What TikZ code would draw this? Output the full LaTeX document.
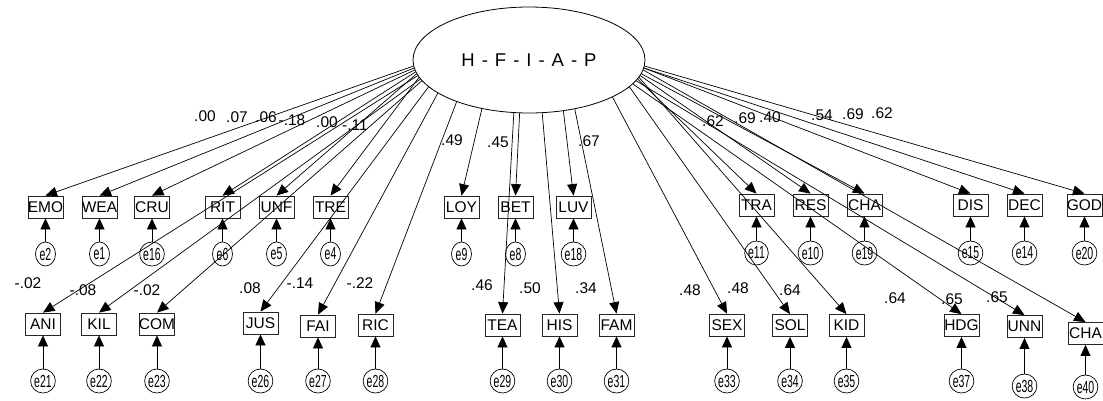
\documentclass[tikz,border=0pt]{standalone}
\usepackage{fontspec}
\usepackage{graphicx}
\setmainfont{Liberation Sans}
\usetikzlibrary{arrows.meta,shapes.geometric}
% error-term labels are set narrow, as in the circles of the path diagram
\newcommand{\errlabel}[1]{\scalebox{0.6}[1]{#1}}
\begin{document}
\begin{tikzpicture}[x=1pt,y=-1pt,
  every node/.style={inner sep=0pt},
  obs/.style={draw=black!85, line width=0.8pt, minimum width=35pt, minimum height=22pt},
  obstext/.style={font=\fontsize{15.5}{15.5}\selectfont},
  err/.style={draw, ellipse, line width=0.7pt, minimum width=20pt, minimum height=24pt,
              font=\fontsize{17.5}{17.5}\selectfont},
  coef/.style={font=\fontsize{15.5}{15.5}\selectfont},
  loadarrow/.style={line width=0.7pt, -{Triangle[length=11.5pt,width=10pt]}},
  errarrow/.style={line width=0.7pt, -{Triangle[length=11pt,width=10pt]}},
]
\useasboundingbox (0,0) rectangle (1103,400);

% latent factor
\node[draw, ellipse, line width=0.8pt, minimum width=232pt, minimum height=106pt,
      font=\fontsize{18.5}{18.5}\selectfont] (F) at (529,60)
  {H\hspace{7pt}-\hspace{7pt}F\hspace{7pt}-\hspace{7pt}I\hspace{7pt}-\hspace{7pt}A\hspace{7pt}-\hspace{7pt}P};

% upper row of indicators
\foreach \n/\x/\y in {EMO/45.5/207, WEA/99.5/207, CRU/152/207, RIT/222.5/207, UNF/276.5/207,
  TRE/330.5/207, LOY/461.5/207, BET/515.5/207, LUV/573.5/207, TRA/756.5/205, RES/810.5/205,
  CHAa/864.5/205, DIS/970.5/205, DEC/1024.5/205, GOD/1084.5/205}
  \node[obs] (\n) at (\x,\y) {};
\foreach \n/\t in {EMO/EMO, WEA/WEA, CRU/CRU, RIT/RIT, UNF/UNF, TRE/TRE, LOY/LOY, BET/BET,
  LUV/LUV, TRA/TRA, RES/RES, CHAa/CHA, DIS/DIS, DEC/DEC, GOD/GOD}
  \node[obstext] (\n t) at (\n) {\t};

% lower row of indicators
\foreach \n/\x/\y in {ANI/43/324, KIL/99/324, COM/157/324, JUS/260.5/323, FAI/318/326,
  RIC/375.5/325, TEA/502.5/325, HIS/559.5/325, FAM/616.5/325, SEX/727/325, SOL/790/325.5,
  KID/846.5/325.5, HDG/961.5/325.5, UNN/1024.5/326.5, CHAb/1085.5/333.5}
  \node[obs] (\n) at (\x,\y) {};
\foreach \n/\t in {ANI/ANI, KIL/KIL, COM/COM, JUS/JUS, FAI/FAI, RIC/RIC, TEA/TEA, HIS/HIS,
  FAM/FAM, SEX/SEX, SOL/SOL, KID/KID, HDG/HDG, UNN/UNN, CHAb/CHA}
  \node[obstext] (\n t) at (\n) {\t};

% error terms, upper row
\foreach \e/\b/\y in {2/EMO/254, 1/WEA/254, 16/CRU/254, 6/RIT/254, 5/UNF/254, 4/TRE/254,
  9/LOY/254, 8/BET/254, 18/LUV/254, 11/TRA/253, 10/RES/253, 19/CHAa/253, 15/DIS/253,
  14/DEC/253, 20/GOD/253}
{
  \path (\b) coordinate (c\e);
  \node[err] (e\e) at (c\e |- 0,\y) {\errlabel{e\e}};
  \draw[errarrow] (e\e) -- (\b);
}

% error terms, lower row
\foreach \e/\b/\y in {21/ANI/381, 22/KIL/381, 23/COM/381, 26/JUS/381, 27/FAI/381, 28/RIC/381,
  29/TEA/381, 30/HIS/381, 31/FAM/381, 33/SEX/381, 34/SOL/381, 35/KID/381, 37/HDG/381,
  38/UNN/386, 40/CHAb/387}
{
  \path (\b) coordinate (c\e);
  \node[err] (e\e) at (c\e |- 0,\y) {\errlabel{e\e}};
  \draw[errarrow] (e\e) -- (\b);
}

% loadings from the factor to each indicator
\foreach \n/\a in {EMO/183, WEA/184, CRU/185, RIT/186, UNF/187, ANI/188, TRE/189, KIL/190,
  COM/191, JUS/195, FAI/200, RIC/210, LOY/226, TEA/254, BET/260, HIS/284, LUV/304, FAM/313,
  GOD/357, DEC/356.5, DIS/356, CHAb/355, CHAa/353, RES/352, KID/351, TRA/350, UNN/349,
  HDG/347.5, SOL/345, SEX/336}
  \draw[loadarrow] (F.\a) -- (\n.north);

% loading estimates
\foreach \i/\x/\y/\v in {1/205/116/.00, 2/237/117/.07, 3/266/117/.06, 4/292/120/-.18,
  5/327/122/.00, 6/355/125/-.11, 7/452/140/.49, 8/498/142/.45, 9/589/141/.67,
  10/713/121/.62, 11/745/118/.69, 12/770/117/.40, 13/822/115/.54, 14/853/114/.69,
  15/882/113/.62, 16/28/283/-.02, 17/83/290/-.08, 18/147/290/-.02, 19/250/288/.08,
  20/300/283/-.14, 21/360/283/-.22, 22/482/285/.46, 23/530/288/.50, 24/586/288/.34,
  25/690/290/.48, 26/738/288/.48, 27/790/290/.64, 28/895/298/.64, 29/952/299/.65,
  30/997/297/.65}
  \node[coef] (v\i) at (\x,\y) {\v};
\end{tikzpicture}
\end{document}
